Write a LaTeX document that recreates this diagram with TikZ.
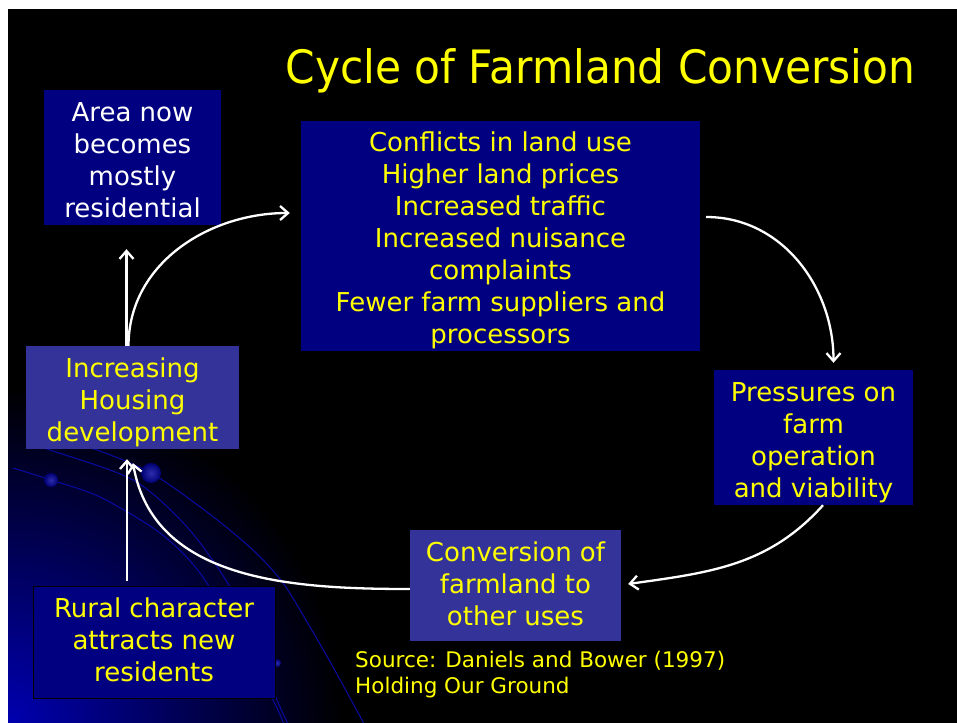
\documentclass[tikz,border=0pt]{standalone}
\usepackage{fontspec}
\setmainfont{DejaVu Sans}
\newfontfamily\titlefont[FakeStretch=0.92]{DejaVu Sans}
\usetikzlibrary{arrows.meta}
\definecolor{slidenavy}{RGB}{0,0,128}
\definecolor{slidepurple}{RGB}{51,51,153}
\definecolor{slideyellow}{RGB}{255,255,0}
\definecolor{glowblue}{RGB}{0,0,175}
\definecolor{swirlblue}{RGB}{10,10,165}
\tikzset{
	navybox/.style={
		fill=slidenavy,
		text=slideyellow,
		align=center,
		inner sep=0pt,
		font=\fontsize{26}{32}\selectfont,
		text depth=7pt,
	},
	purplebox/.style={
		navybox,
		fill=slidepurple,
	},
	cyclearrow/.style={
		draw=white,
		line width=2.3pt,
		-{Straight Barb[length=8pt,width=14pt]},
	},
	swirl/.style={
		draw=swirlblue,
		line width=1pt,
	},
	bead/.style={
		inner color={rgb,255:red,45;green,45;blue,175},
		outer color={rgb,255:red,0;green,0;blue,115},
	},
}

\begin{document}
\begin{tikzpicture}[x=1pt,y=1pt]
	\useasboundingbox (0,0) rectangle (957,-722);
	\fill[white] (-5,5) rectangle (962,-730);
	\fill[black] (8,-9) rectangle (962,-730);
	% background glow and swirls
	\begin{scope}
		\clip (8,-9) rectangle (962,-730);
		\shade[inner color=glowblue, outer color=black] (8,-722) circle (335);
		\draw[swirl] plot[smooth] coordinates {(60,-440) (97,-450) (151,-473) (207,-512) (253,-550) (283,-583) (310,-627) (333,-667) (363,-722) (366,-730)};
		\draw[swirl] plot[smooth] coordinates {(30,-443) (50,-450) (133,-480) (187,-527) (230,-587) (258,-650) (277,-700) (287,-722) (290,-730)};
		\draw[swirl] plot[smooth] coordinates {(13,-468) (51,-480) (100,-497) (160,-533) (200,-573) (240,-640) (273,-700) (283,-722) (286,-730)};
		\shade[bead] (151,-473) circle (10);
		\shade[bead] (51,-480) circle (7);
		\shade[bead] (277,-663) circle (4);
	\end{scope}
	\node[font=\titlefont\fontsize{46}{50}\selectfont, text=slideyellow, anchor=base] (title) at (600.5,-84) {Cycle of Farmland Conversion};
	\node[navybox, text=white, text height=126pt, minimum width=177pt, minimum height=135pt] (area) at (132.5,-157.5) {Area now\\becomes\\mostly\\residential};
	\node[navybox, text height=221pt, minimum width=399pt, minimum height=230pt] (conflicts) at (500.5,-236) {Conflicts in land use\\Higher land prices\\Increased traffic\\Increased nuisance\\complaints\\Fewer farm suppliers and\\processors};
	\node[navybox, text height=126pt, minimum width=199pt, minimum height=135pt] (pressures) at (813.5,-437.5) {Pressures on\\farm\\operation\\and viability};
	\node[purplebox, text height=87pt, minimum width=211pt, minimum height=111pt] (conversion) at (515.5,-585.5) {Conversion of\\farmland to\\other uses};
	\node[purplebox, text height=94pt, minimum width=213pt, minimum height=103pt] (housing) at (132.5,-397.5) {Increasing\\Housing\\development};
	\node[navybox, draw=black, text height=85pt, minimum width=242pt, minimum height=112pt] (rural) at (154,-642) {Rural character\\attracts new\\residents};
	\node[anchor=north west, text=slideyellow, align=left, inner sep=0pt, font=\fontsize{21.5}{25.5}\selectfont] (source) at (355,-651) {Source: Daniels and Bower (1997)\\Holding Our Ground};
	% cycle
	\draw[cyclearrow, shorten >=24pt] ([xshift=-6pt]housing.north) -- ([xshift=-6pt]area.south);
	\draw[cyclearrow] ([xshift=-4pt]housing.north) to[out=90,in=180] ([xshift=-11pt,yshift=23pt]conflicts.west);
	\draw[cyclearrow] ([xshift=6pt,yshift=19pt]conflicts.east) to[out=0,in=90] ([xshift=20pt,yshift=7pt]pressures.north);
	\draw[cyclearrow] ([xshift=9.5pt]pressures.south) to[out=-132,in=8] ([xshift=7pt,yshift=1.5pt]conversion.east);
	\draw[cyclearrow] ([yshift=-3.5pt]conversion.west) to[out=180,in=-80] ([xshift=0.5pt,yshift=-14pt]housing.south);
	\draw[cyclearrow] ([xshift=-27pt,yshift=5pt]rural.north) -- ([xshift=-5.5pt,yshift=-10pt]housing.south);
\end{tikzpicture}
\end{document}
